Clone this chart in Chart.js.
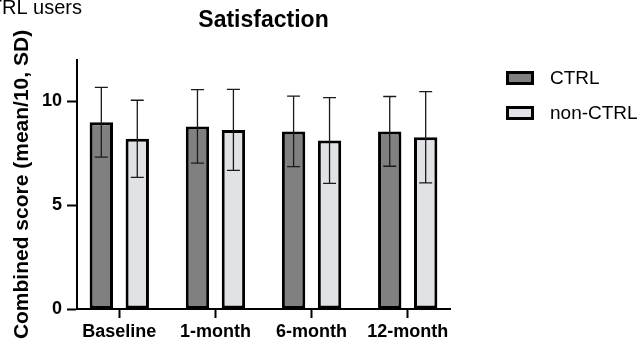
<!DOCTYPE html>
<html>
<head>
<meta charset="utf-8">
<script src="https://cdn.jsdelivr.net/npm/chart.js@4/dist/chart.umd.min.js"></script>
<style>
  html, body { margin: 0; padding: 0; background: #fff; }
  #wrap { width: 644px; height: 345px; }
</style>
</head>
<body>
<div id="wrap"><canvas id="c" width="644" height="345"></canvas></div>
<script>
// Time points and groups
const categories = ['Baseline', '1-month', '6-month', '12-month'];
const seriesNames = ['CTRL', 'non-CTRL'];

// Combined satisfaction score, mean and SD per time point
const ctrlMean = [9.0, 8.8, 8.56, 8.56];
const ctrlSD   = [1.68, 1.77, 1.7, 1.68];
const nonMean  = [8.2, 8.63, 8.12, 8.28];
const nonSD    = [1.86, 1.95, 2.07, 2.2];

// Y axis ticks
const yTicks = [0, 5, 10];

const FONT = '"Liberation Sans", Arial, Helvetica, sans-serif';
const seriesFill = ['#808080', '#e1e2e6'];

function toPoints(values) {
  return categories.map((c, i) => ({ x: i, y: values[i] }));
}

// Mean ± SD whiskers, caption, title and legend
const decorations = {
  id: 'decorations',
  afterDatasetsDraw(chart) {
    const ctx = chart.ctx;
    const yScale = chart.scales.y;
    ctx.save();
    ctx.strokeStyle = '#1a1a1a';
    ctx.lineWidth = 1.3;
    chart.data.datasets.forEach((ds, di) => {
      const meta = chart.getDatasetMeta(di);
      meta.data.forEach((bar, i) => {
        const m = ds.data[i].y, sd = ds.sd[i];
        const yHi = yScale.getPixelForValue(m + sd);
        const yLo = yScale.getPixelForValue(m - sd);
        const cap = 6.5;
        ctx.beginPath();
        ctx.moveTo(bar.x, yHi); ctx.lineTo(bar.x, yLo);
        ctx.moveTo(bar.x - cap, yHi); ctx.lineTo(bar.x + cap, yHi);
        ctx.moveTo(bar.x - cap, yLo); ctx.lineTo(bar.x + cap, yLo);
        ctx.stroke();
      });
    });
    ctx.restore();
  },
  afterDraw(chart) {
    const ctx = chart.ctx;
    const area = chart.chartArea;
    ctx.save();
    ctx.fillStyle = '#000';

    // caption fragment in the corner
    ctx.font = '20px ' + FONT;
    ctx.textAlign = 'right';
    ctx.textBaseline = 'alphabetic';
    ctx.fillText('CTRL users', 82, 14);

    // chart title, centred over the plot area
    ctx.font = 'bold 23px ' + FONT;
    ctx.textAlign = 'center';
    ctx.fillText('Satisfaction', (area.left + area.right) / 2, 27);

    // legend
    const lx = area.right + 56, ly = 71, gap = 35, bw = 28, bh = 14, lw = 3;
    ctx.font = '19px ' + FONT;
    ctx.textAlign = 'left';
    ctx.textBaseline = 'middle';
    chart.data.datasets.forEach((ds, di) => {
      const y = ly + di * gap;
      ctx.fillStyle = '#000';
      ctx.fillRect(lx, y, bw, bh);
      ctx.fillStyle = ds.backgroundColor;
      ctx.fillRect(lx + lw, y + lw, bw - 2 * lw, bh - 2 * lw);
      ctx.fillStyle = '#000';
      ctx.fillText(ds.label, lx + bw + 16, y + bh / 2 + 1);
    });
    ctx.restore();
  }
};

new Chart(document.getElementById('c'), {
  type: 'bar',
  data: {
    datasets: [
      {
        label: seriesNames[0], data: toPoints(ctrlMean), sd: ctrlSD,
        backgroundColor: seriesFill[0], borderColor: '#000', borderWidth: 3, borderSkipped: false,
        categoryPercentage: 0.748, barPercentage: 0.65
      },
      {
        label: seriesNames[1], data: toPoints(nonMean), sd: nonSD,
        backgroundColor: seriesFill[1], borderColor: '#000', borderWidth: 3, borderSkipped: false,
        categoryPercentage: 0.748, barPercentage: 0.65
      }
    ]
  },
  options: {
    responsive: false,
    animation: false,
    layout: { padding: { top: 60, right: 194, bottom: 0, left: 0 } },
    plugins: { legend: { display: false }, tooltip: { enabled: false }, title: { display: false } },
    scales: {
      x: {
        type: 'linear', min: -0.44, max: 3.44, offset: false,
        afterFit(s) { s.height = 36; },
        border: { color: '#000', width: 2 },
        grid: { offset: false, drawOnChartArea: false, tickLength: 9, tickWidth: 2, tickColor: '#000' },
        ticks: {
          stepSize: 1, includeBounds: false, autoSkip: false, maxRotation: 0, padding: 3,
          color: '#000', font: { family: FONT, size: 18, weight: 'bold' },
          callback: v => categories[v] ?? ''
        }
      },
      y: {
        min: 0, max: 12,
        afterFit(s) { s.width = 77; },
        afterBuildTicks(s) { s.ticks = yTicks.map(v => ({ value: v })); },
        border: { color: '#000', width: 2 },
        grid: { drawOnChartArea: false, tickLength: 10, tickWidth: 2, tickColor: '#000' },
        ticks: {
          padding: 5, color: '#000', font: { family: FONT, size: 18, weight: 'bold' }
        },
        title: {
          display: true, text: 'Combined score (mean/10, SD)', color: '#000',
          font: { family: FONT, size: 21, weight: 'bold' }, padding: { top: 10, bottom: 0 }
        }
      }
    }
  },
  plugins: [decorations]
});
</script>
</body>
</html>
